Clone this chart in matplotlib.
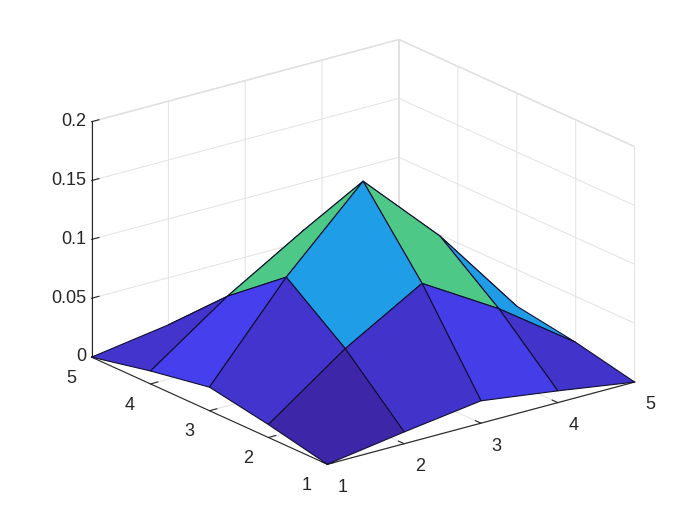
#!/usr/bin/env python3

import numpy as np
import matplotlib
matplotlib.use('Agg')
import matplotlib.pyplot as plt
from matplotlib.colors import LinearSegmentedColormap, Normalize

X_VALUES = [1, 2, 3, 4, 5]
Y_VALUES = [1, 2, 3, 4, 5]
# rows are y, columns are x
Z_VALUES = [
    [0.0, 0.010, 0.019, 0.010, 0.0],
    [0.011, 0.058, 0.096, 0.057, 0.011],
    [0.020, 0.096, 0.160, 0.096, 0.019],
    [0.011, 0.057, 0.096, 0.058, 0.011],
    [0.0, 0.010, 0.020, 0.011, 0.0],
]
X_TICKS = [1, 2, 3, 4, 5]
Y_TICKS = [1, 2, 3, 4, 5]
Z_TICKS = [0, 0.05, 0.1, 0.15, 0.2]
Z_TICK_LABELS = ['0', '0.05', '0.1', '0.15', '0.2']

# MATLAB parula, roughly
PARULA = ['#3e26a8', '#4743f6', '#2e87f7', '#12b1d6', '#37c899', '#abc739', '#fec338', '#f9fb15']

AXIS_COLOR = '#262626'
GRID_COLOR = '#e2e2e2'
BOX_COLOR = '#dadada'


def main():
    plt.rcParams['font.family'] = ['Liberation Sans', 'DejaVu Sans']
    fig = plt.figure(figsize=(7, 5.25), dpi=100)
    # axes bigger than the box, otherwise the surface corners get clipped
    ax = fig.add_axes([55 / 700, -35 / 525, 600 / 700, 600 / 525], projection='3d', proj_type='ortho')
    ax.view_init(elev=20.4, azim=-127.5)
    ax.set_box_aspect((387, 387, 251), zoom=0.975)

    xx, yy = np.meshgrid(X_VALUES, Y_VALUES)
    zz = np.array(Z_VALUES)
    cmap = LinearSegmentedColormap.from_list('parula', PARULA)
    colors = cmap(Normalize(0, 0.16)(zz))
    ax.plot_surface(xx, yy, zz, facecolors=colors, rstride=1, cstride=1, shade=False,
                    edgecolor='#101030', linewidth=0.8, antialiased=True)

    ax.set_xlim(1, 5, view_margin=0)
    ax.set_ylim(1, 5, view_margin=0)
    ax.set_zlim(0, 0.2, view_margin=0)
    ax.set_xticks(X_TICKS)
    ax.set_yticks(Y_TICKS)
    ax.set_zticks(Z_TICKS)
    ax.set_zticklabels(Z_TICK_LABELS)

    for axis in (ax.xaxis, ax.yaxis, ax.zaxis):
        axis.set_pane_color((1, 1, 1, 1))
        axis.pane.set_edgecolor(BOX_COLOR)
        axis.line.set_color(AXIS_COLOR)
        axis.line.set_linewidth(0.8)
        axis._axinfo['grid'].update(color=GRID_COLOR, linewidth=0.7)
        axis._axinfo['tick'].update(inward_factor=0.0, outward_factor=0.3)
        axis._axinfo['tick']['linewidth'] = {True: 0.8, False: 0.5}
        axis._axinfo['tick']['color'] = AXIS_COLOR
    ax.tick_params(axis='both', labelsize=13, colors=AXIS_COLOR, pad=7)
    ax.tick_params(axis='z', labelsize=13, colors=AXIS_COLOR, pad=-6)
    for label in ax.get_xticklabels() + ax.get_yticklabels():
        label.set_va('center')
    for label in ax.get_zticklabels():
        label.set_va('center')
        label.set_ha('right')
    ax.grid(True)

    fig.savefig('out.png', dpi=100)


if __name__ == '__main__':
    main()
